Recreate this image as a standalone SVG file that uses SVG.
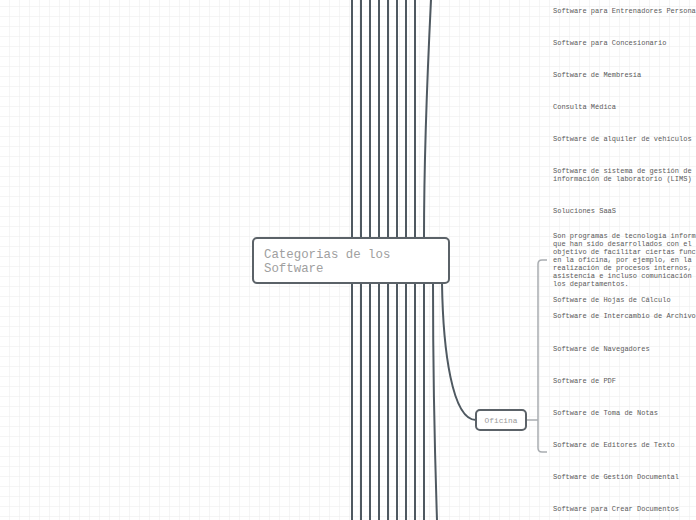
<svg xmlns="http://www.w3.org/2000/svg" width="696" height="520" viewBox="0 0 696 520">
<defs>
<pattern id="grid" x="9" y="6" width="10" height="10" patternUnits="userSpaceOnUse">
<path d="M0,0 H10 M0,0 V10" fill="none" stroke="#ececec" stroke-width="1"/>
</pattern>
<style>
.conn{fill:none;stroke:#4f5961;stroke-width:2;}
.br{fill:none;stroke:#a9adb1;stroke-width:1.5;}
.node{fill:#ffffff;stroke:#5b6268;stroke-width:2;}
.main{font-family:"Liberation Mono","DejaVu Sans Mono",monospace;font-size:12.4px;fill:#a0a0a0;}
.sub{font-family:"Liberation Mono","DejaVu Sans Mono",monospace;font-size:7.8px;fill:#9a9a9a;}
.t{font-family:"Liberation Mono","DejaVu Sans Mono",monospace;font-size:7px;fill:#5a5a5a;}
</style>
</defs>
<rect width="696" height="520" fill="#ffffff"/>
<rect width="696" height="520" fill="url(#grid)"/>
<g id="connectors">
<path class="conn" d="M352,0 V238 M361,0 V238 M370,0 V238 M379,0 V238 M388,0 V238 M397,0 V238 M406,0 V238 M415,0 V238"/>
<path class="conn" d="M424,238 C424,150 428,60 431,0"/>
<path class="conn" d="M352,283 V520 M361,283 V520 M370,283 V520 M379,283 V520 M388,283 V520 M397,283 V520 M406,283 V520 M415,283 V520 M424,283 V520"/>
<path class="conn" d="M433,283 C433,400 435,460 437,520"/>
<path class="conn" d="M442,283 C443,350 452,420 476,420"/>
<path class="br" d="M526,420 H538"/>
<path class="br" d="M547,260 H542 Q538,260 538,264 V448 Q538,452 542,452 H547"/>
</g>
<g id="node-main">
<rect class="node" x="253" y="238" width="196" height="45" rx="4"/>
<text class="main" x="264" y="258">Categorias de los</text>
<text class="main" x="264" y="272">Software</text>
</g>
<g id="node-oficina">
<rect class="node" x="476" y="410" width="50" height="20" rx="4" stroke-width="1.5"/>
<text class="sub" x="501" y="423" text-anchor="middle">Oficina</text>
</g>
<g id="items">
<text class="t" x="553" y="13">Software para Entrenadores Persona</text>
<text class="t" x="553" y="45">Software para Concesionario</text>
<text class="t" x="553" y="77">Software de Membresía</text>
<text class="t" x="553" y="109">Consulta Médica</text>
<text class="t" x="553" y="141">Software de alquiler de vehículos</text>
<text class="t" x="553" y="173">Software de sistema de gestión de</text>
<text class="t" x="553" y="181">información de laboratorio (LIMS)</text>
<text class="t" x="553" y="213">Soluciones SaaS</text>
<text class="t" x="553" y="238">Son programas de tecnología inform</text>
<text class="t" x="553" y="246">que han sido desarrollados con el</text>
<text class="t" x="553" y="254">objetivo de facilitar ciertas func</text>
<text class="t" x="553" y="262">en la oficina, por ejemplo, en la</text>
<text class="t" x="553" y="270">realización de procesos internos,</text>
<text class="t" x="553" y="278">asistencia e incluso comunicación</text>
<text class="t" x="553" y="286">los departamentos.</text>
<text class="t" x="553" y="302">Software de Hojas de Cálculo</text>
<text class="t" x="553" y="318">Software de Intercambio de Archivo</text>
<text class="t" x="553" y="351">Software de Navegadores</text>
<text class="t" x="553" y="383">Software de PDF</text>
<text class="t" x="553" y="415">Software de Toma de Notas</text>
<text class="t" x="553" y="447">Software de Editores de Texto</text>
<text class="t" x="553" y="479">Software de Gestión Documental</text>
<text class="t" x="553" y="511">Software para Crear Documentos</text>
</g>
</svg>
